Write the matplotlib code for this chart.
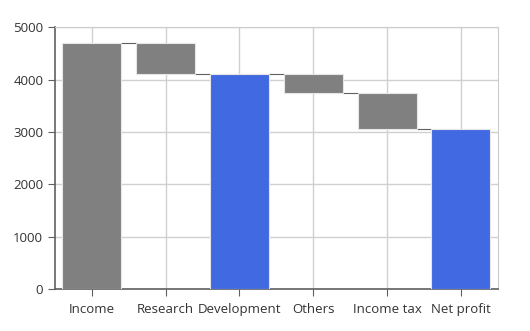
import matplotlib
matplotlib.use("Agg")
import matplotlib.pyplot as plt
import numpy as np

categories = ["Income", "Research", "Development", "Others", "Income tax", "Net profit"]
changes = [4700, -600, None, -350, -700, None]  # None = running total bar
total_color = "#4169E1"
step_color = "#808080"

plt.rcParams["font.family"] = ["Open Sans", "DejaVu Sans"]

# work out bar bottoms/heights from the running total
bottoms, heights, colors, levels = [], [], [], []
running = 0
for ch in changes:
    if ch is None:
        bottoms.append(0)
        heights.append(running)
        colors.append(total_color)
    else:
        new = running + ch
        bottoms.append(min(running, new))
        heights.append(abs(ch))
        colors.append(step_color)
        running = new
    levels.append(running)

fig = plt.figure(figsize=(5.3, 3.31), dpi=100)
ax = fig.add_axes([55 / 530, 1 - 289 / 331, (497.7 - 55) / 530, (289 - 27.3) / 331])

x = np.arange(len(categories))
width = 0.8
ax.bar(x, heights, bottom=bottoms, width=width, color=colors,
       edgecolor="#e6e6e6", linewidth=0.8, zorder=3)

# connector lines between consecutive bars
for i in range(len(categories) - 1):
    ax.plot([x[i] + width / 2, x[i + 1] - width / 2], [levels[i], levels[i]],
            color="#606060", linewidth=0.8, zorder=2)

ax.set_xlim(-0.5, len(categories) - 0.5)
ax.set_ylim(0, 5000)
ax.set_yticks(np.arange(0, 5001, 1000))
ax.set_xticks(x)
ax.set_xticklabels(categories)

ax.grid(True, color="#d0d0d0", linewidth=1, zorder=0)
ax.set_axisbelow(True)
for side in ("top", "right"):
    ax.spines[side].set_color("#cccccc")
for side in ("left", "bottom"):
    ax.spines[side].set_color("#606060")
    ax.spines[side].set_linewidth(1.2)
ax.tick_params(colors="#606060", labelcolor="#333333", labelsize=9.5, length=5)
ax.tick_params(axis="x", pad=5)

fig.savefig("out.png", dpi=100)
